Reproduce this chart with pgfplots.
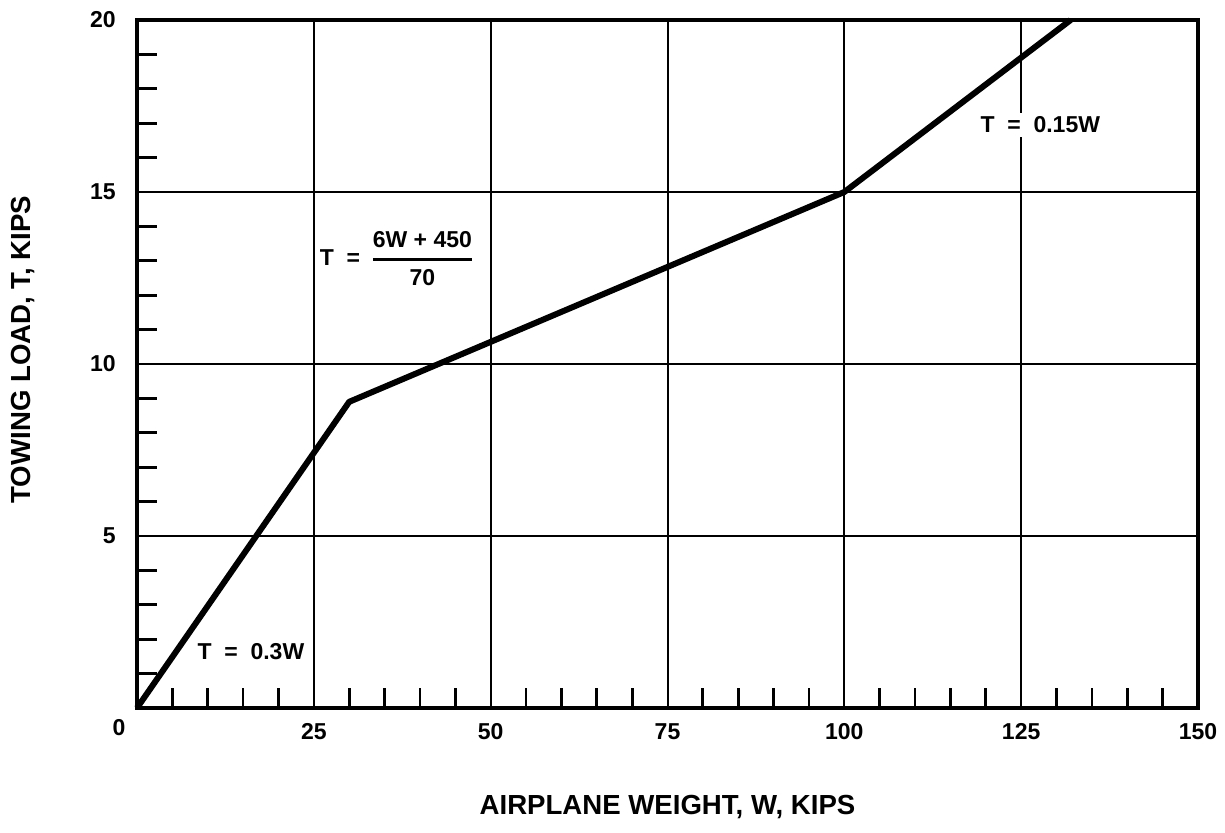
\documentclass[border=0pt]{standalone}
\usepackage{fontspec}
\setmainfont{Liberation Sans}
\usepackage{pgfplots}
\pgfplotsset{compat=1.18}
\newcommand{\annfont}{\bfseries\fontsize{11.5}{13.5}\selectfont}
\begin{document}
\begin{tikzpicture}
\path[use as bounding box] (-68.5pt,-62.5pt) rectangle (544pt,354pt);
\begin{axis}[
  at={(0,0)}, anchor=south west,
  scale only axis, width=530.5pt, height=344pt,
  xmin=0, xmax=150, ymin=0, ymax=20,
  xtick={0,25,...,150}, xticklabels={,25,50,75,100,125,150},
  ytick={0,5,...,20}, yticklabels={,5,10,15,20},
  minor x tick num=4, minor y tick num=4,
  tick pos=left, tick align=inside,
  major tick length=0pt, minor tick length=10pt,
  every minor tick/.append style={black, line width=1.4pt},
  grid=major, major grid style={black, line width=1pt},
  axis line style={line width=2pt},
  ticklabel style={font=\bfseries\fontsize{11.5}{13.5}\selectfont},
  xticklabel style={anchor=center, yshift=-12pt},
  yticklabel style={anchor=east, inner sep=0pt, xshift=-10.5pt},
  xlabel={AIRPLANE WEIGHT, W, KIPS},
  ylabel={TOWING LOAD, T, KIPS},
  label style={font=\bfseries\fontsize{13.8}{16}\selectfont},
  xlabel style={at={(axis description cs:0.5,-0.1439)}, anchor=center},
  ylabel style={at={(axis description cs:-0.1074,0.521)}, anchor=center},
  clip=false,
  /pgf/number format/assume math mode=true,
]
\addplot[black, line width=3pt, line join=round] coordinates {(0,0) (30,8.9) (100,15) (132,20)};
\node[font=\annfont] at (axis cs:16.1,1.63) {T\ \ =\ \ 0.3W};
\node[font=\annfont, fill=white, inner sep=2pt] at (axis cs:127.7,16.95) {T\ \ =\ \ 0.15W};
\node[font=\annfont] at (axis cs:36.6,13.05) {T\ \ =\ \ {\renewcommand\arraystretch{1.3}\setlength\arrayrulewidth{1.5pt}\begin{tabular}{@{}c@{}}6W + 450\\\hline 70\end{tabular}}};
\node[font=\bfseries\fontsize{11.5}{13.5}\selectfont] at (axis cs:0,0) [xshift=-9pt, yshift=-10pt] {0};
\end{axis}
\end{tikzpicture}
\end{document}
